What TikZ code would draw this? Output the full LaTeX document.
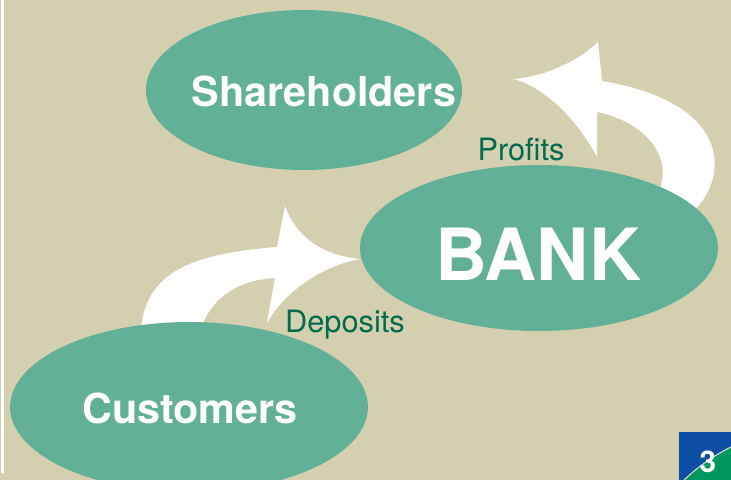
\documentclass[tikz,border=0pt]{standalone}
\usepackage{fontspec}
\setsansfont{TeX Gyre Heros}
\usetikzlibrary{shapes.geometric}
\definecolor{khaki}{HTML}{D4D0AF}
\definecolor{sea}{HTML}{62B097}
\definecolor{darkgreen}{HTML}{006B4F}
\definecolor{badgeblue}{HTML}{0B4EA2}
\definecolor{badgegreen}{HTML}{00965E}
\begin{document}
\begin{tikzpicture}[x=0.02cm,y=-0.02cm,line join=round,line cap=round,font=\sffamily,
	blob/.style={ellipse,fill=sea,inner sep=0pt},
	lbl/.style={text=white,anchor=base,font=\sffamily\bfseries\fontsize{23.5}{28}\selectfont},
	flowlbl/.style={text=darkgreen,anchor=base,font=\sffamily\fontsize{17.5}{21}\selectfont}]
	\clip (0,0) rectangle (731,480);
	\fill[khaki] (0,0) rectangle (731,480);
	\fill[white] (1,0) rectangle (4,473);
	% white arrows
	\fill[white] (140,345) .. controls (140,280) and (175,255) .. (277,247) -- (285,206) .. controls (295,235) and (320,255) .. (360,259) .. controls (325,265) and (285,290) .. (267,323) -- (275,278) .. controls (235,280) and (205,300) .. (196,345) -- cycle;
	\fill[white] (693,212) .. controls (720,185) and (728,140) .. (680,108) .. controls (655,92) and (625,85) .. (602,81) -- (598,42) .. controls (580,60) and (545,77) .. (513,79) .. controls (540,85) and (575,115) .. (597,157) -- (597,112) .. controls (640,120) and (680,155) .. (655,200) -- cycle;
	% ellipses
	\node[blob,minimum width=6.32cm,minimum height=3.2cm] (share) at (304,90) {};
	\node[blob,minimum width=7.16cm,minimum height=3.32cm] (bank) at (539,248) {};
	\node[blob,minimum width=7.16cm,minimum height=3.4cm] (cust) at (189,407) {};
	\node[lbl] (sharetxt) at (324,106) {Shareholders};
	\node[lbl,font=\sffamily\bfseries\fontsize{41}{48}\selectfont] (banktxt) at (538,280) {BANK};
	\node[lbl] (custtxt) at (190,423) {Customers};
	\node[flowlbl] (profits) at (521,160) {Profits};
	\node[flowlbl] (deposits) at (345,332) {Deposits};
	% page badge
	\fill[badgeblue] (679,432) rectangle (731,480);
	\fill[badgegreen] (684,480) .. controls (700,465) and (715,455) .. (731,447) -- (731,480) -- cycle;
	\draw[khaki!70!white,line width=0.6pt] (684,480) .. controls (700,465) and (715,455) .. (731,447);
	\node[text=white,anchor=base,font=\sffamily\bfseries\fontsize{17}{20}\selectfont] (page) at (708,472) {3};
\end{tikzpicture}
\end{document}
